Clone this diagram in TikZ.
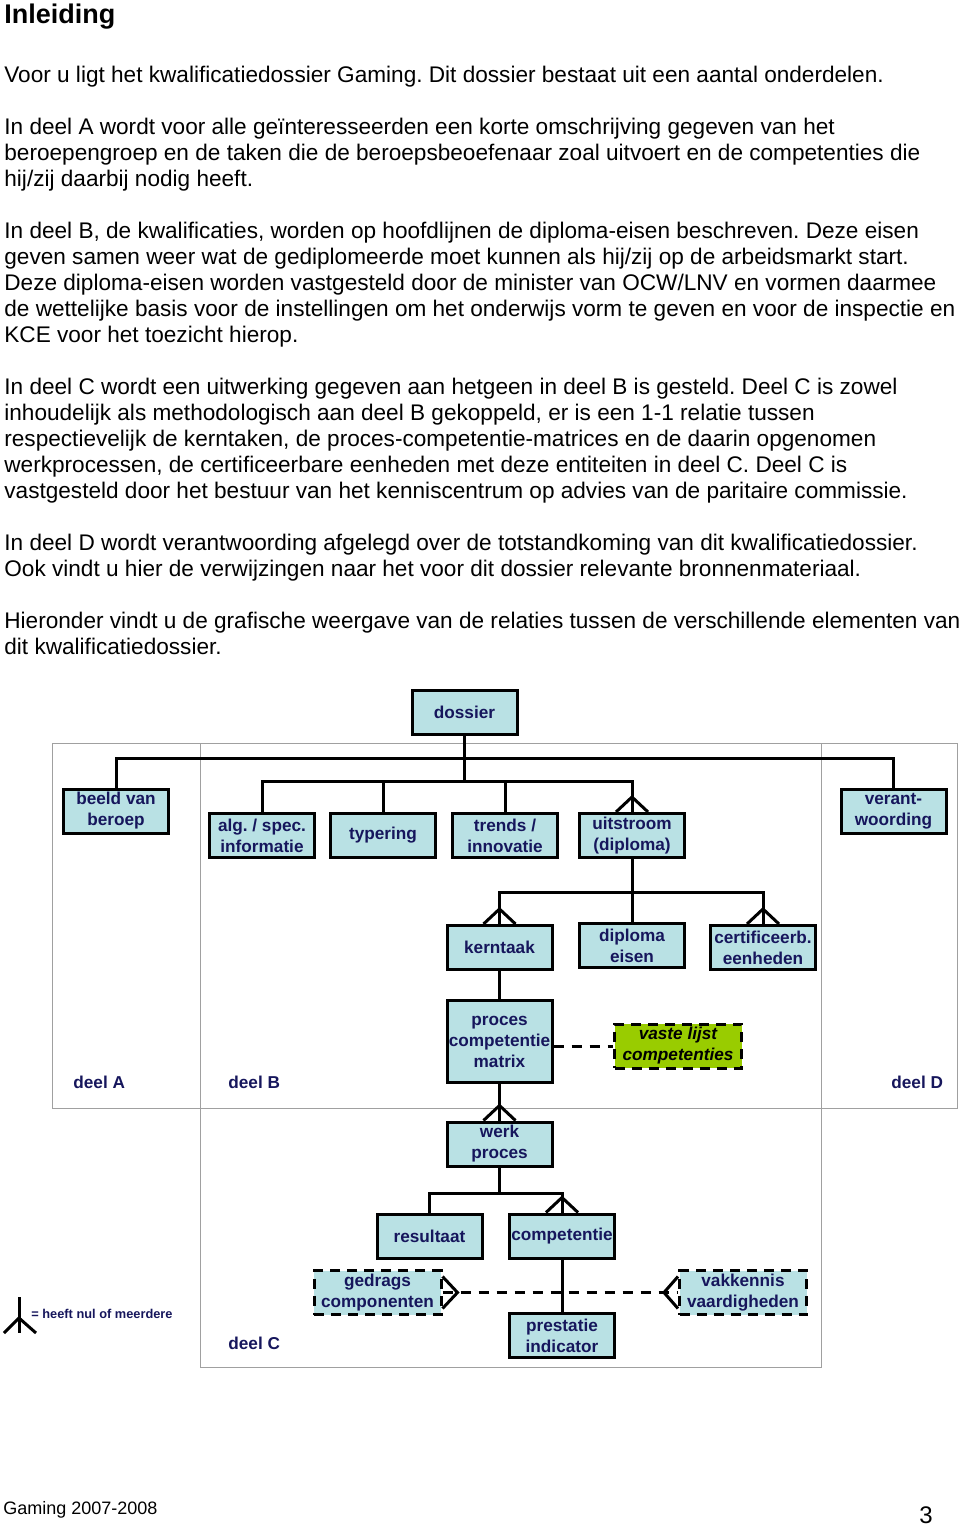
\documentclass[tikz,border=0pt]{standalone}
\usepackage{fontspec}
\setmainfont{Liberation Sans}
\usetikzlibrary{calc}
\frenchspacing
\definecolor{boxblue}{RGB}{185,225,228}
\definecolor{navy}{RGB}{22,22,92}
\definecolor{lime}{RGB}{153,204,0}
\definecolor{framegray}{RGB}{160,160,160}

\newcommand{\crowdown}[1]{\draw [line] ($(#1)+(-16,0)$) -- ($(#1)+(0,-15)$) -- ($(#1)+(16,0)$);}
\newcommand{\crowright}[1]{\draw [line] ($(#1)+(0,-16)$) -- ($(#1)+(15,0)$) -- ($(#1)+(0,16)$);}
\newcommand{\crowleft}[1]{\draw [line] ($(#1)+(0,-16)$) -- ($(#1)+(-14,0)$) -- ($(#1)+(0,16)$);}

\begin{document}
\begin{tikzpicture}[x=0.5pt, y=-0.5pt]

\tikzstyle{box}=[rectangle, draw, line width=1.5pt, fill=boxblue, text=navy, font=\bfseries\fontsize{8.6}{10.5}\selectfont, align=center, inner sep=0pt, minimum width=52.5pt, minimum height=22pt]
\tikzstyle{wide}=[minimum width=63.5pt]
\tikzstyle{dbox}=[dash pattern=on 5pt off 3.5pt]
\tikzstyle{line}=[line width=1.5pt]
\tikzstyle{dline}=[line width=1.5pt, dash pattern=on 5pt off 4pt]
\tikzstyle{frame}=[draw=framegray, line width=0.5pt]
\tikzstyle{lbl}=[anchor=base west, inner sep=0pt, text=navy, font=\bfseries\fontsize{8.6}{10.5}\selectfont]
\tikzstyle{body}=[anchor=base west, inner sep=0pt, font=\fontsize{11.3}{13}\selectfont]

\useasboundingbox (0,0) rectangle (960,1527);

\node (title) [anchor=base west, inner sep=0pt, font=\bfseries\fontsize{13.5}{16}\selectfont] at (4,23) {Inleiding};

\foreach \yy/\txt [count=\n] in {
  82/{Voor u ligt het kwalificatiedossier Gaming. Dit dossier bestaat uit een aantal onderdelen.},
  134/{In deel A wordt voor alle geïnteresseerden een korte omschrijving gegeven van het},
  160/{beroepengroep en de taken die de beroepsbeoefenaar zoal uitvoert en de competenties die},
  186/{hij/zij daarbij nodig heeft.},
  238/{In deel B, de kwalificaties, worden op hoofdlijnen de diploma-eisen beschreven. Deze eisen},
  264/{geven samen weer wat de gediplomeerde moet kunnen als hij/zij op de arbeidsmarkt start.},
  290/{Deze diploma-eisen worden vastgesteld door de minister van OCW/LNV en vormen daarmee},
  316/{de wettelijke basis voor de instellingen om het onderwijs vorm te geven en voor de inspectie en},
  342/{KCE voor het toezicht hierop.},
  394/{In deel C wordt een uitwerking gegeven aan hetgeen in deel B is gesteld. Deel C is zowel},
  420/{inhoudelijk als methodologisch aan deel B gekoppeld, er is een 1-1 relatie tussen},
  446/{respectievelijk de kerntaken, de proces-competentie-matrices en de daarin opgenomen},
  472/{werkprocessen, de certificeerbare eenheden met deze entiteiten in deel C. Deel C is},
  498/{vastgesteld door het bestuur van het kenniscentrum op advies van de paritaire commissie.},
  550/{In deel D wordt verantwoording afgelegd over de totstandkoming van dit kwalificatiedossier.},
  576/{Ook vindt u hier de verwijzingen naar het voor dit dossier relevante bronnenmateriaal.},
  628/{Hieronder vindt u de grafische weergave van de relaties tussen de verschillende elementen van},
  654/{dit kwalificatiedossier.}}
  \node (L\n) [body] at (4,\yy) {\txt};

\draw [frame] (52,743) rectangle (957,1108);
\draw [frame] (200,743) rectangle (821,1367);

\node (dossier) [box] at (464.5,712) {dossier};
\node (beeld) [box] at (116,811) {beeld van\\beroep};
\node (alg) [box] at (262,835.5) {alg. / spec.\\informatie};
\node (typering) [box] at (383,835.5) {typering};
\node (trends) [box] at (505,835.5) {trends /\\innovatie};
\node (uitstroom) [box] at (632,835.5) {uitstroom\\(diploma)};
\node (verant) [box] at (893.5,811) {verant-\\woording};

\node (kerntaak) [box] at (499.5,947.5) {kerntaak};
\node (diploma) [box] at (632,945.5) {diploma\\eisen};
\node (certif) [box] at (763,947.5) {certificeerb.\\eenheden};

\node (proces) [box, minimum height=41pt] at (499.5,1041.5) {proces\\competentie\\matrix};
\node (vaste) [box, wide, dbox, fill=lime, text=black, font=\bfseries\itshape\fontsize{8.6}{10.5}\selectfont] at (678,1046) {vaste lijst\\competenties};

\node (werk) [box] at (499.5,1144) {werk\\proces};
\node (resultaat) [box] at (429.5,1236) {resultaat};
\node (competentie) [box] at (562,1236) {competentie};
\node (prestatie) [box] at (562,1335.5) {prestatie\\indicator};
\node (gedrags) [box, wide, dbox] at (377.5,1292.5) {gedrags\\componenten};
\node (vakkennis) [box, wide, dbox] at (743,1292.5) {vakkennis\\vaardigheden};

\coordinate (T) at (464.5,758);
\coordinate (M) at (464.5,781);
\coordinate (K) at (632,892);
\coordinate (W) at (499.5,1193);

\draw [line] (dossier.south) -- (M);
\draw [line] (beeld.north) |- (T) -| (verant.north);
\draw [line] (alg.north) |- (M) -| (uitstroom.north);
\draw [line] (typering.north) -- (typering.north |- M);
\draw [line] (trends.north) -- (trends.north |- M);
\crowdown{uitstroom.north}
\draw [line] (uitstroom.south) -- (diploma.north);
\draw [line] (kerntaak.north) |- (K) -| (certif.north);
\crowdown{kerntaak.north}
\crowdown{certif.north}
\draw [line] (kerntaak) -- (proces);
\draw [dline] (proces.east |- vaste.west) -- (vaste.west);
\draw [line] (proces) -- (werk);
\crowdown{werk.north}
\draw [line] (werk.south) -- (W);
\draw [line] (resultaat.north) |- (W) -| (competentie.north);
\crowdown{competentie.north}
\draw [line] (competentie) -- (prestatie);
\draw [dline] (gedrags.east) -- (vakkennis.west);
\crowright{gedrags.east}
\crowleft{vakkennis.west}

\node (dA) [lbl] at (73,1088) {deel A};
\node (dB) [lbl] at (228,1088) {deel B};
\node (dD) [lbl] at (891,1088) {deel D};
\node (dC) [lbl] at (228,1349) {deel C};

\draw [line] (19,1297) -- (19,1333);
\draw [line] (4,1333) -- (19,1318) -- (36,1333);
\node (key) [anchor=west, inner sep=0pt, text=navy, font=\bfseries\fontsize{6.4}{8}\selectfont] at (31,1314) {= heeft nul of meerdere};

\node (foot) [anchor=base west, inner sep=0pt, font=\fontsize{9}{11}\selectfont] at (3,1514) {Gaming 2007-2008};
\node (page) [anchor=base east, inner sep=0pt, font=\fontsize{12}{14}\selectfont] at (933,1523) {3};

\end{tikzpicture}
\end{document}
